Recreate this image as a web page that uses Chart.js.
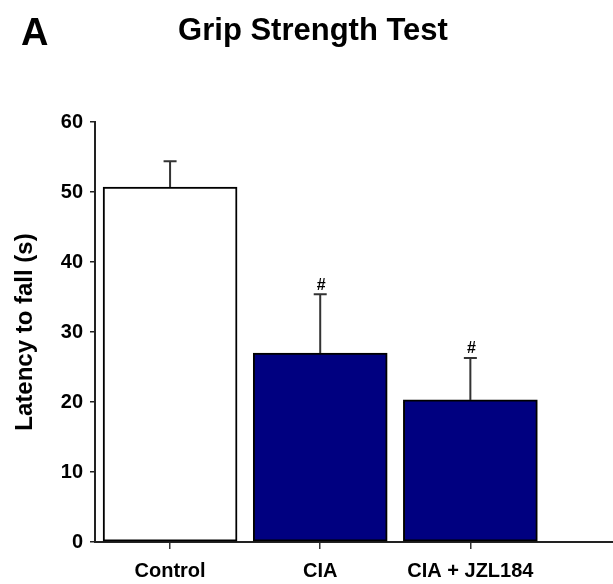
<!DOCTYPE html>
<html>
<head>
<meta charset="utf-8">
<script src="https://cdn.jsdelivr.net/npm/chart.js@4"></script>
<style>
  body { margin: 0; background: #fff; }
  canvas { display: block; }
</style>
</head>
<body>
<canvas id="gripChart" width="613" height="584"></canvas>
<script>
// data
const categories = ['Control', 'CIA', 'CIA + JZL184'];
const latencyMean = [50.7, 27.0, 20.3];
const latencyErr = [3.7, 8.4, 6.0];
const significant = ['', '#', '#'];
const barColors = ['#ffffff', '#000080', '#000080'];
const yTicks = [0, 10, 20, 30, 40, 50, 60];

const FONT = '"Liberation Sans", Arial, sans-serif';

// error bars (upper only) and # markers
const errorBarPlugin = {
    id: 'errorBars',
    afterDatasetsDraw(chart) {
        const ctx = chart.ctx;
        const meta = chart.getDatasetMeta(0);
        const y = chart.scales.y;
        ctx.save();
        meta.data.forEach(function(bar, i) {
            const top = y.getPixelForValue(latencyMean[i] + latencyErr[i]);
            const base = y.getPixelForValue(latencyMean[i]);
            ctx.strokeStyle = '#333';
            ctx.lineWidth = 2;
            ctx.beginPath();
            ctx.moveTo(bar.x, base);
            ctx.lineTo(bar.x, top);
            ctx.moveTo(bar.x - 6.5, top);
            ctx.lineTo(bar.x + 6.5, top);
            ctx.stroke();
            if (significant[i]) {
                ctx.fillStyle = '#000';
                ctx.font = 'bold 16px ' + FONT;
                ctx.textAlign = 'center';
                ctx.textBaseline = 'bottom';
                ctx.fillText(significant[i], bar.x + 1, top - 1);
            }
        });
        ctx.restore();
    }
};

// panel letter and heading
const headingPlugin = {
    id: 'heading',
    afterDraw(chart) {
        const ctx = chart.ctx;
        ctx.save();
        ctx.fillStyle = '#000';
        ctx.textBaseline = 'alphabetic';
        ctx.font = 'bold 38px ' + FONT;
        ctx.textAlign = 'left';
        ctx.fillText('A', 21, 45);
        ctx.font = 'bold 31px ' + FONT;
        ctx.textAlign = 'center';
        ctx.fillText('Grip Strength Test', 313, 40);
        ctx.restore();
    }
};

const ctx = document.getElementById('gripChart').getContext('2d');
const chart = new Chart(ctx, {
    type: 'bar',
    data: {
        datasets: [{
            label: 'Latency to fall',
            data: categories.map(function(c, i) { return { x: i, y: latencyMean[i] }; }),
            backgroundColor: barColors,
            borderColor: '#000',
            borderWidth: 2,
            borderSkipped: false,
            barThickness: 134
        }]
    },
    options: {
        responsive: false,
        animation: false,
        devicePixelRatio: 1,
        layout: { padding: { left: 0, right: 0, top: 122, bottom: 0 } },
        plugins: {
            legend: { display: false },
            tooltip: { enabled: false },
            title: { display: false }
        },
        scales: {
            x: {
                type: 'linear',
                offset: false,
                min: -0.5,
                max: 2.95,
                afterBuildTicks: function(scale) {
                    scale.ticks = categories.map(function(c, i) { return { value: i }; });
                },
                afterFit: function(scale) { scale.height = 42; },
                grid: { offset: false, drawOnChartArea: false, drawTicks: true, tickLength: 7, color: '#333', lineWidth: 1.5 },
                border: { display: true, color: '#222', width: 2 },
                ticks: {
                    autoSkip: false,
                    maxRotation: 0,
                    padding: 10,
                    color: '#000',
                    font: { family: FONT, size: 20, weight: 'bold' },
                    callback: function(v) { return categories[v]; }
                }
            },
            y: {
                min: 0,
                max: 60,
                afterBuildTicks: function(scale) {
                    scale.ticks = yTicks.map(function(v) { return { value: v }; });
                },
                afterFit: function(scale) { scale.width = 95; },
                grid: { drawOnChartArea: false, drawTicks: true, tickLength: 5, color: '#222', lineWidth: 1.5 },
                border: { display: true, color: '#222', width: 2 },
                ticks: {
                    padding: 7,
                    color: '#000',
                    font: { family: FONT, size: 20, weight: 'bold' }
                },
                title: {
                    display: true,
                    text: 'Latency to fall (s)',
                    color: '#000',
                    font: { family: FONT, size: 24, weight: 'bold' },
                    padding: { top: 11, bottom: 0 }
                }
            }
        }
    },
    plugins: [errorBarPlugin, headingPlugin]
});
</script>
</body>
</html>
